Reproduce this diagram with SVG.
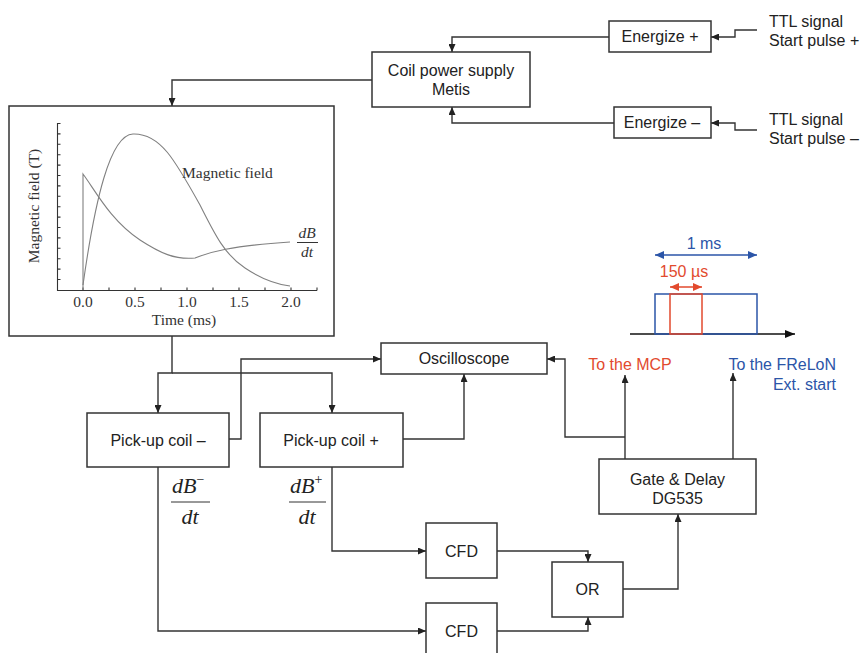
<svg xmlns="http://www.w3.org/2000/svg" width="863" height="653" viewBox="0 0 863 653">
<defs>
<style>
.box{fill:#fff;stroke:#333;stroke-width:1.5}
.t{font-family:"Liberation Sans",Arial,sans-serif;font-size:16px;fill:#222;text-anchor:middle}
.tl{font-family:"Liberation Sans",Arial,sans-serif;font-size:16px;fill:#222}
.c{fill:none;stroke:#333;stroke-width:1.4}
.ser{font-family:"Liberation Serif","Times New Roman",serif;font-size:15.5px;fill:#333}
.it{font-family:"Liberation Serif","Times New Roman",serif;font-style:italic;font-size:22px;fill:#222}
.curve{fill:none;stroke:#808080;stroke-width:1.1}
.ax{fill:none;stroke:#333;stroke-width:1.1}
.blue{fill:#2b55a8}
.red{fill:#e24a2e}
</style>
<marker id="ah" viewBox="0 0 8 7" markerWidth="8" markerHeight="7" refX="8" refY="3.5" orient="auto" markerUnits="userSpaceOnUse"><path d="M0,0 L8,3.5 L0,7 z" fill="#222"/></marker>
<marker id="ahb" viewBox="0 0 9 8" markerWidth="9" markerHeight="8" refX="9" refY="4" orient="auto-start-reverse" markerUnits="userSpaceOnUse"><path d="M0,0 L9,4 L0,8 z" fill="#2b55a8"/></marker>
<marker id="ahr" viewBox="0 0 9 8" markerWidth="9" markerHeight="8" refX="9" refY="4" orient="auto-start-reverse" markerUnits="userSpaceOnUse"><path d="M0,0 L9,4 L0,8 z" fill="#e24a2e"/></marker>
<marker id="ahk" viewBox="0 0 10 8" markerWidth="10" markerHeight="8" refX="10" refY="4" orient="auto" markerUnits="userSpaceOnUse"><path d="M0,0 L10,4 L0,8 z" fill="#111"/></marker>
</defs>
<rect width="863" height="653" fill="#fff"/>

<g id="connectors">
<path class="c" d="M609,37 H452 V52" marker-end="url(#ah)"/>
<path class="c" d="M614,123 H452 V107" marker-end="url(#ah)"/>
<path class="c" d="M757,30 H735 V37 H711" marker-end="url(#ah)"/>
<path class="c" d="M757,130 H735 V123 H711" marker-end="url(#ah)"/>
<path class="c" d="M372,80 H172 V106" marker-end="url(#ah)"/>
<path class="c" d="M172,336 V373 H158 V413" marker-end="url(#ah)"/>
<path class="c" d="M172,373 H332 V413" marker-end="url(#ah)"/>
<path class="c" d="M229,439 H241 V359 H381" marker-end="url(#ah)"/>
<path class="c" d="M403,439 H464 V374" marker-end="url(#ah)"/>
<path class="c" d="M332,467 V551 H426" marker-end="url(#ah)"/>
<path class="c" d="M158,467 V631 H426" marker-end="url(#ah)"/>
<path class="c" d="M497,551 H588 V562" marker-end="url(#ah)"/>
<path class="c" d="M497,631 H588 V617" marker-end="url(#ah)"/>
<path class="c" d="M623,589 H678 V514" marker-end="url(#ah)"/>
<path class="c" d="M625,459 V375" marker-end="url(#ah)"/>
<path class="c" d="M625,437 H565 V359 H547" marker-end="url(#ah)"/>
<path class="c" d="M733,459 V373" marker-end="url(#ah)"/>
</g>

<g id="ttl-plus">
<text class="tl" x="769" y="27">TTL signal</text>
<text class="tl" x="769" y="46">Start pulse +</text>
</g>
<g id="ttl-minus">
<text class="tl" x="769" y="125">TTL signal</text>
<text class="tl" x="769" y="144">Start pulse –</text>
</g>

<g id="energize-plus">
<rect class="box" x="609" y="21" width="102" height="31"/>
<text class="t" x="660" y="42">Energize +</text>
</g>
<g id="energize-minus">
<rect class="box" x="614" y="107" width="97" height="31"/>
<text class="t" x="662" y="128">Energize –</text>
</g>
<g id="coil-power-supply">
<rect class="box" x="372" y="52" width="158" height="55"/>
<text class="t" x="451" y="76">Coil power supply</text>
<text class="t" x="451" y="95">Metis</text>
</g>

<g id="plot">
<rect class="box" x="9" y="106" width="325" height="230"/>
<path class="ax" d="M57.5,123 V290.5 H317"/>
<path class="ax" d="M57.5,123.5h3M57.5,133.9h3M57.5,144.3h3M57.5,154.7h3M57.5,165.1h3M57.5,175.5h3M57.5,185.9h3M57.5,196.3h3M57.5,206.7h3M57.5,217.1h3M57.5,227.5h3M57.5,237.9h3M57.5,248.3h3M57.5,258.7h3M57.5,269.1h3M57.5,279.5h3"/>
<path class="ax" d="M83,290.5v-3M109,290.5v-3M135,290.5v-3M161,290.5v-3M187,290.5v-3M213,290.5v-3M239,290.5v-3M265,290.5v-3M291,290.5v-3M317,290.5v-3"/>
<g class="ser" text-anchor="middle">
<text x="83" y="307">0.0</text>
<text x="135" y="307">0.5</text>
<text x="187" y="307">1.0</text>
<text x="239" y="307">1.5</text>
<text x="291" y="307">2.0</text>
<text x="184" y="325">Time (ms)</text>
<text transform="translate(39,206) rotate(-90)">Magnetic field (T)</text>
</g>
<path class="curve" d="M83,285 C95,200 110,135 133,134 C160,133 175,160 200,205 C215,235 225,255 245,268 C260,278 275,284 290,286"/>
<path class="curve" d="M83,290 L83,174 C95,190 110,220 140,240 C160,253 175,260 195,258 C210,252 230,246 290,242"/>
<text class="ser" x="182" y="178">Magnetic field</text>
<text class="ser" x="307" y="238" text-anchor="middle" font-style="italic">dB</text>
<line x1="297" y1="242.5" x2="318" y2="242.5" stroke="#333" stroke-width="1"/>
<text class="ser" x="307" y="257" text-anchor="middle" font-style="italic">dt</text>
</g>

<g id="oscilloscope">
<rect class="box" x="381" y="343" width="166" height="31"/>
<text class="t" x="464" y="364">Oscilloscope</text>
</g>
<g id="pickup-minus">
<rect class="box" x="87" y="413" width="142" height="54"/>
<text class="t" x="158" y="446">Pick-up coil –</text>
</g>
<g id="pickup-plus">
<rect class="box" x="260" y="413" width="143" height="54"/>
<text class="t" x="331" y="446">Pick-up coil +</text>
</g>
<g id="dbminus">
<text class="it" x="172" y="493">dB<tspan font-size="14" dy="-9" font-style="normal">−</tspan></text>
<line x1="171" y1="502" x2="210" y2="502" stroke="#333" stroke-width="1"/>
<text class="it" x="190" y="524" text-anchor="middle">dt</text>
</g>
<g id="dbplus">
<text class="it" x="290" y="493">dB<tspan font-size="14" dy="-9" font-style="normal">+</tspan></text>
<line x1="289" y1="502" x2="326" y2="502" stroke="#333" stroke-width="1"/>
<text class="it" x="307" y="524" text-anchor="middle">dt</text>
</g>
<g id="cfd1">
<rect class="box" x="426" y="523" width="71" height="55"/>
<text class="t" x="461.5" y="557">CFD</text>
</g>
<g id="cfd2">
<rect class="box" x="426" y="603" width="71" height="55"/>
<text class="t" x="461.5" y="637">CFD</text>
</g>
<g id="or">
<rect class="box" x="552" y="562" width="71" height="55"/>
<text class="t" x="587.5" y="595">OR</text>
</g>
<g id="gate-delay">
<rect class="box" x="599" y="459" width="157" height="55"/>
<text class="t" x="677.5" y="485">Gate &amp; Delay</text>
<text class="t" x="677.5" y="504">DG535</text>
</g>
<g id="to-mcp">
<text class="t red" x="630" y="370">To the MCP</text>
</g>
<g id="to-frelon">
<text class="tl blue" x="836" y="370" text-anchor="end">To the FReLoN</text>
<text class="tl blue" x="836" y="390" text-anchor="end">Ext. start</text>
</g>

<g id="timing">
<path d="M630,334 H795" stroke="#111" stroke-width="1.5" fill="none" marker-end="url(#ahk)"/>
<rect x="655" y="294" width="102" height="40" fill="none" stroke="#2b55a8" stroke-width="1.5"/>
<rect x="670" y="294" width="32" height="40" fill="none" stroke="#e24a2e" stroke-width="1.5"/>
<path d="M655,255 H757" stroke="#2b55a8" stroke-width="1.5" marker-start="url(#ahb)" marker-end="url(#ahb)"/>
<path d="M670,287 H702" stroke="#e24a2e" stroke-width="1.5" marker-start="url(#ahr)" marker-end="url(#ahr)"/>
<text class="t blue" x="704" y="249">1 ms</text>
<text class="t red" x="684" y="277">150 µs</text>
</g>
</svg>
